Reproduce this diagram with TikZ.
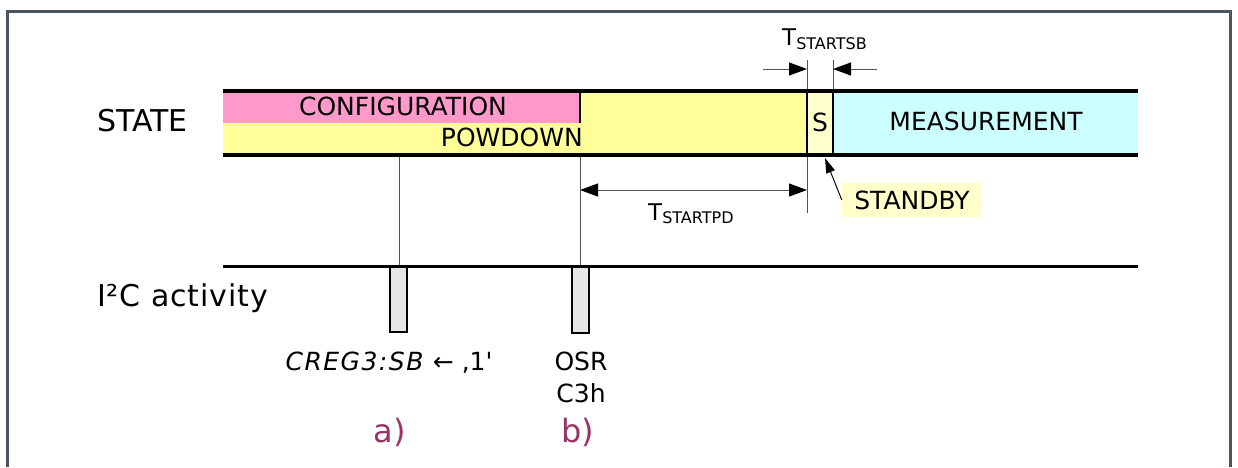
\documentclass[tikz,border=0pt]{standalone}
\usepackage{fontspec}
\setmainfont{DejaVu Sans}[ItalicFont={DejaVu Sans Oblique}]
\usetikzlibrary{arrows.meta}
\definecolor{framec}{HTML}{4A5761}
\definecolor{pinkc}{HTML}{FF99CC}
\definecolor{yelc}{HTML}{FFFF99}
\definecolor{lyelc}{HTML}{FFFFCC}
\definecolor{cyanc}{HTML}{CCFFFF}
\definecolor{boxc}{HTML}{E6E6E6}
\definecolor{purc}{HTML}{993366}
\definecolor{guide}{HTML}{555555}
\begin{document}
\begin{tikzpicture}[x=1pt,y=-1pt,
  txt/.style={inner sep=0pt, font=\fontsize{25}{30}\selectfont},
  big/.style={inner sep=0pt, font=\fontsize{30}{36}\selectfont},
  lettr/.style={inner sep=0pt, text=purc, font=\fontsize{32}{38}\selectfont},
  busline/.style={line width=3.5pt},
  divline/.style={line width=2pt},
  guideline/.style={line width=1pt, draw=guide},
  dimtip/.style={line width=1pt, draw=guide},
  bighead/.tip={Triangle[length=18pt,width=13pt,color=black]},
  actbox/.style={line width=1.5pt, draw=black, fill=boxc}]
\useasboundingbox (0,0) rectangle (1238,467);
\fill[white] (0,0) rectangle (1238,467);
% frame
\draw[framec, line width=3pt] (7.5,467) -- (7.5,11) -- (1230.5,11) -- (1230.5,467);
% state bar fills
\fill[yelc] (223,91) rectangle (807,155);
\fill[pinkc] (223,91) rectangle (580,123);
\fill[lyelc] (807,91) rectangle (833,155);
\fill[cyanc] (833,91) rectangle (1138,155);
% guides
\draw[guideline] (807,60) -- (807,213);
\draw[guideline] (833,60) -- (833,91);
\draw[guideline] (580,155) -- (580,266);
\draw[guideline] (399,155) -- (399,266);
% bar outlines
\draw[busline] (223,91) -- (1138,91);
\draw[busline] (223,155) -- (1138,155);
\draw[divline] (580,91) -- (580,123);
\draw[divline] (807,91) -- (807,155);
\draw[divline] (833,91) -- (833,155);
% dimension arrows
\coordinate (sbl0) at (763,69);
\coordinate (sbl1) at (807,69);
\coordinate (sbr0) at (877,69);
\coordinate (sbr1) at (833,69);
\coordinate (pd0) at (580,190);
\coordinate (pd1) at (807,190);
\draw[dimtip, -bighead] (sbl0) -- (sbl1);
\draw[dimtip, -bighead] (sbr0) -- (sbr1);
\draw[dimtip, bighead-bighead] (pd0) -- (pd1);
% I2C activity
\draw[actbox] (390,266) rectangle (407,332);
\draw[actbox] (572,266) rectangle (589,333);
\draw[line width=3pt] (223,266) -- (1138,266);
% texts
\node[txt, anchor=base] (cfg) at (403,115) {CONFIGURATION};
\node[txt, anchor=base east] (pwd) at (583,146.7) {POWDOWN};
\node[txt, anchor=base] (sst) at (820,131) {S};
\node[txt, anchor=base] (meas) at (986,130.7) {MEASUREMENT};
\node[big, anchor=base west] (state) at (97,131.7) {STATE};
\node[big, anchor=base west] (i2c) at (97,306.7) {\addfontfeature{LetterSpace=3}I²C activity};
\node[anchor=base west, inner sep=0pt] (tsb) at (782,45.7) {\fontsize{23}{28}\selectfont T\raisebox{-4pt}{\fontsize{16}{19}\selectfont STARTSB}};
\node[anchor=base west, inner sep=0pt] (tpd) at (648,220) {\fontsize{23}{28}\selectfont T\raisebox{-3.5pt}{\fontsize{16}{19}\selectfont STARTPD}};
\node[txt, fill=lyelc, minimum width=140pt, minimum height=34pt] (standby) at (912,200) {STANDBY};
\coordinate (sptr) at (825,158);
\draw[line width=1pt, -{Triangle[length=15pt,width=9pt]}] (standby.west) -- (sptr);
\node[txt, anchor=base] (creg) at (389,370) {{\addfontfeature{LetterSpace=6}\textit{CREG3:SB}}\ ←\ ‚1\textquotesingle};
\node[txt, anchor=base] (osr) at (581,370) {OSR};
\node[txt, anchor=base] (c3h) at (581,402) {C3h};
\node[lettr, anchor=base] (la) at (390,442) {a)};
\node[lettr, anchor=base] (lb) at (578,442) {b)};
\end{tikzpicture}
\end{document}
